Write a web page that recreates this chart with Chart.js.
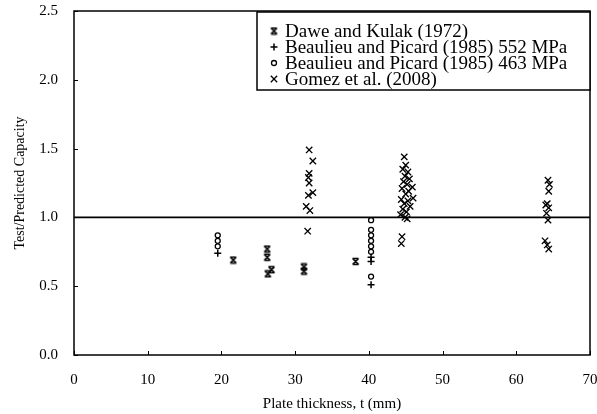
<!DOCTYPE html>
<html>
<head>
<meta charset="utf-8">
<script src="https://cdn.jsdelivr.net/npm/chart.js@4.4.0/dist/chart.umd.min.js"></script>
<style>
  html, body { margin: 0; background: #fff; }
  #wrap { width: 597px; height: 414px; }
</style>
</head>
<body>
<div id="wrap"><canvas id="c"></canvas></div>
<script>
// data: plate thickness t (mm) vs test/predicted capacity
const daweT = [21.6, 26.2, 26.2, 26.3, 26.8, 31.2, 31.2, 38.2];
const daweV = [0.69, 0.77, 0.71, 0.59, 0.62, 0.64, 0.61, 0.68];

const b552T = [19.5, 40.3, 40.3, 40.3];
const b552V = [0.74, 0.71, 0.68, 0.51];

const b463T = [19.5, 19.5, 19.5, 40.3, 40.3, 40.3, 40.3, 40.3, 40.3, 40.3];
const b463V = [0.87, 0.83, 0.79, 0.98, 0.91, 0.87, 0.83, 0.79, 0.75, 0.57];

const gomezT = [
  31.9, 32.4, 31.9, 31.8, 31.9, 32.4, 31.8, 31.5, 32.0, 31.7,
  44.8, 45.0, 44.6, 45.3, 44.9, 45.5, 44.7, 45.2, 45.9, 44.5, 45.4, 45.0,
  46.0, 44.4, 45.3, 44.8, 45.6, 44.6, 45.1, 44.3, 44.9, 45.2, 44.5, 44.4,
  64.3, 64.5, 64.4, 64.2, 64.0, 64.4, 64.1, 64.3, 63.9, 64.2, 64.4
];
const gomezV = [
  1.49, 1.41, 1.32, 1.29, 1.25, 1.18, 1.16, 1.08, 1.05, 0.90,
  1.44, 1.38, 1.35, 1.33, 1.30, 1.28, 1.26, 1.24, 1.22, 1.21, 1.19, 1.17,
  1.14, 1.13, 1.12, 1.10, 1.08, 1.06, 1.04, 1.02, 1.00, 0.99, 0.86, 0.81,
  1.27, 1.24, 1.19, 1.10, 1.09, 1.07, 1.03, 0.98, 0.83, 0.80, 0.77
];

const refT = [0, 70];
const refV = [1.0, 1.0];

const seriesNames = [
  'Dawe and Kulak (1972)',
  'Beaulieu and Picard (1985) 552 MPa',
  'Beaulieu and Picard (1985) 463 MPa',
  'Gomez et al. (2008)'
];

const xTicks = [0, 10, 20, 30, 40, 50, 60, 70];
const yTicks = [0, 0.5, 1.0, 1.5, 2.0, 2.5];

const pts = (xs, ys) => xs.map((x, i) => ({ x: x, y: ys[i] }));

// hourglass marker for Dawe and Kulak
function hourglass() {
  const c = document.createElement('canvas');
  c.width = 9; c.height = 9;
  const g = c.getContext('2d');
  g.strokeStyle = '#000';
  g.lineWidth = 1.6;
  g.beginPath();
  g.moveTo(1.5, 1.5); g.lineTo(7.5, 1.5);
  g.moveTo(1.5, 7.5); g.lineTo(7.5, 7.5);
  g.moveTo(1.5, 1.5); g.lineTo(7.5, 7.5);
  g.moveTo(7.5, 1.5); g.lineTo(1.5, 7.5);
  g.stroke();
  return c;
}
const hg = hourglass();

const serif = '"Liberation Serif", "DejaVu Serif", serif';

const noPad = s => { s.paddingLeft = 0; s.paddingRight = 0; s.paddingTop = 0; s.paddingBottom = 0; };

const frame = {
  id: 'frame',
  afterDatasetsDraw(chart) {
    const { ctx, chartArea: a, scales } = chart;
    ctx.save();
    ctx.strokeStyle = '#000';
    ctx.lineWidth = 1.5;
    ctx.strokeRect(a.left, a.top, a.right - a.left, a.bottom - a.top);
    ctx.lineWidth = 1;
    ctx.beginPath();
    xTicks.forEach(t => {
      const x = Math.round(scales.x.getPixelForValue(t)) + 0.5;
      ctx.moveTo(x, a.bottom); ctx.lineTo(x, a.bottom - 4);
    });
    yTicks.forEach(t => {
      const y = Math.round(scales.y.getPixelForValue(t)) + 0.5;
      ctx.moveTo(a.left, y); ctx.lineTo(a.left + 4, y);
    });
    ctx.stroke();

    // legend box
    const bx = 257, by = 12, bw = 333, bh = 78;
    ctx.fillStyle = '#fff';
    ctx.fillRect(bx, by, bw, bh);
    ctx.lineWidth = 1.5;
    ctx.strokeRect(bx, by, bw, bh);
    ctx.font = '19px ' + serif;
    ctx.textBaseline = 'middle';
    chart.data.datasets.slice(0, 4).forEach((ds, i) => {
      const y = by + 19 + i * 16;
      ctx.fillStyle = ds.backgroundColor;
      ctx.strokeStyle = ds.borderColor;
      ctx.lineWidth = ds.borderWidth;
      Chart.helpers.drawPoint(ctx, {
        pointStyle: ds.pointStyle, radius: ds.pointRadius, rotation: 0,
        borderWidth: ds.borderWidth
      }, bx + 17, y);
      ctx.fillStyle = '#000';
      ctx.fillText(ds.label, bx + 28, y + 1);
    });
    ctx.restore();
  }
};

new Chart(document.getElementById('c'), {
  type: 'scatter',
  data: {
    datasets: [
      { label: seriesNames[0], data: pts(daweT, daweV), pointStyle: hg, pointRadius: 4,
        borderColor: '#000', backgroundColor: '#000', borderWidth: 1 },
      { label: seriesNames[1], data: pts(b552T, b552V), pointStyle: 'cross', pointRadius: 3.5,
        borderColor: '#000', backgroundColor: '#000', borderWidth: 1.5 },
      { label: seriesNames[2], data: pts(b463T, b463V), pointStyle: 'circle', pointRadius: 2.5,
        borderColor: '#000', backgroundColor: 'rgba(0,0,0,0)', borderWidth: 1.3 },
      { label: seriesNames[3], data: pts(gomezT, gomezV), pointStyle: 'crossRot', pointRadius: 4.5,
        borderColor: '#000', backgroundColor: '#000', borderWidth: 1.3 },
      { label: 'ref', data: pts(refT, refV), type: 'line', showLine: true, pointRadius: 0,
        borderColor: '#000', borderWidth: 1.8, order: 10 }
    ]
  },
  options: {
    responsive: true,
    maintainAspectRatio: false,
    animation: false,
    layout: { padding: { top: 11, right: 7, left: 0, bottom: 0 } },
    plugins: { legend: { display: false }, tooltip: { enabled: false } },
    scales: {
      x: {
        type: 'linear', min: 0, max: 70,
        afterFit: s => { s.height = 59; noPad(s); },
        afterBuildTicks: s => { s.ticks = xTicks.map(v => ({ value: v })); },
        grid: { display: false, drawTicks: false },
        border: { display: false },
        ticks: { padding: 16, color: '#000', font: { family: serif, size: 15 } },
        title: { display: true, text: 'Plate thickness, t (mm)', color: '#000',
                 font: { family: serif, size: 15 }, padding: { top: 0, bottom: 1 } }
      },
      y: {
        type: 'linear', min: 0, max: 2.5,
        afterFit: s => { s.width = 74; noPad(s); },
        afterBuildTicks: s => { s.ticks = yTicks.map(v => ({ value: v })); },
        grid: { display: false, drawTicks: false },
        border: { display: false },
        ticks: { padding: 16, color: '#000', font: { family: serif, size: 15 },
                 callback: v => v.toFixed(1) },
        title: { display: true, text: 'Test/Predicted Capacity', color: '#000',
                 font: { family: serif, size: 14 }, padding: { top: 12, bottom: 0 } }
      }
    }
  },
  plugins: [frame]
});
</script>
</body>
</html>
